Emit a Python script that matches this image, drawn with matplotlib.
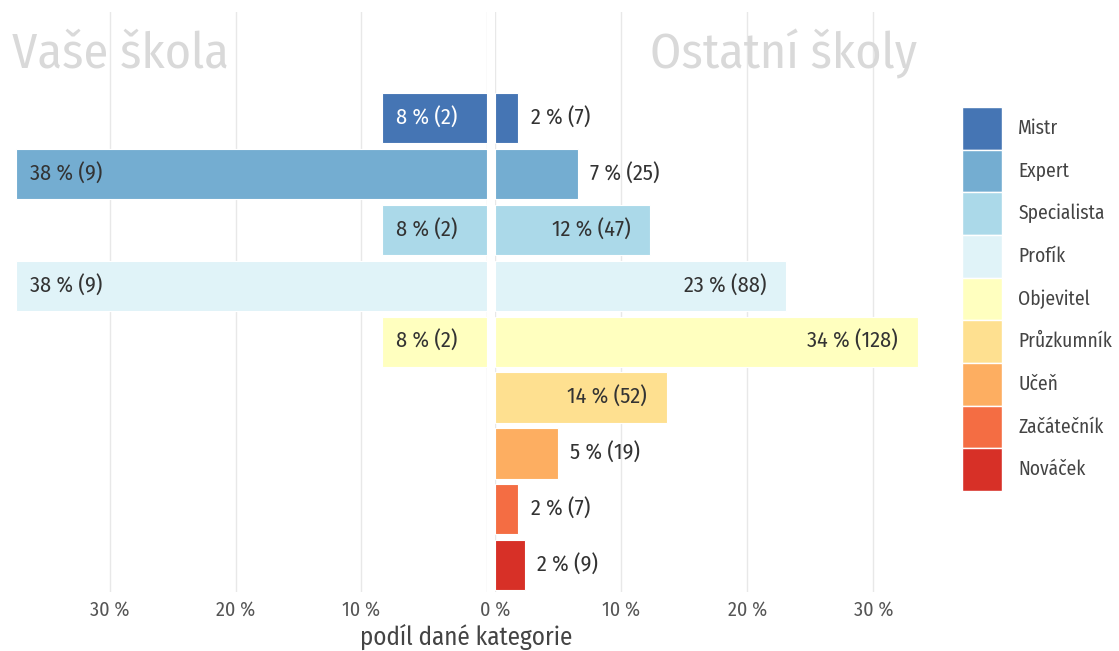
import matplotlib.pyplot as plt
from matplotlib.patches import Patch

# data
kategorie = ["Mistr", "Expert", "Specialista", "Profík", "Objevitel",
             "Průzkumník", "Učeň", "Začátečník", "Nováček"]
barvy = ["#4575b4", "#74add1", "#abd9e9", "#e0f3f8", "#ffffbf",
         "#fee090", "#fdae61", "#f46d43", "#d73027"]
vase_pocet = [2, 9, 2, 9, 2, 0, 0, 0, 0]
ostatni_pocet = [7, 25, 47, 88, 128, 52, 19, 7, 9]
ticks = [0, 10, 20, 30]

vase_pct = [v / sum(vase_pocet) * 100 for v in vase_pocet]
ostatni_pct = [v / sum(ostatni_pocet) * 100 for v in ostatni_pocet]

plt.rcParams["font.family"] = ["Ubuntu Condensed", "Fira Sans Condensed", "DejaVu Sans"]

fig = plt.figure(figsize=(11.19, 6.51), dpi=100)
ax_l = fig.add_axes([12 / 1119, 1 - 592 / 651, 475 / 1119, 580 / 651])
ax_r = fig.add_axes([495 / 1119, 1 - 592 / 651, 425 / 1119, 580 / 651])

y = list(range(len(kategorie)))[::-1]

for ax, pct, cnt in [(ax_l, vase_pct, vase_pocet), (ax_r, ostatni_pct, ostatni_pocet)]:
    for yi, p, c, col in zip(y, pct, cnt, barvy):
        if c == 0:
            continue
        ax.barh(yi, p, height=0.9, color=col, edgecolor="white", linewidth=0.8, zorder=2)
    ax.set_ylim(-0.48, 9.9)
    ax.set_yticks([])
    ax.set_xticks(ticks)
    ax.tick_params(axis="x", length=0, labelsize=14.5, labelcolor="#555555", pad=6)
    ax.grid(axis="x", color="#e8e8e8", linewidth=1, zorder=0)
    for s in ax.spines.values():
        s.set_visible(False)

ax_l.set_xticklabels(["" if t == 0 else f"{t} %" for t in ticks])
ax_r.set_xticklabels([f"{t} %" for t in ticks])
ax_l.set_xlim(37.8, 0)
ax_r.set_xlim(0, 33.7)

# popisky - leva strana vzdy uvnitr
for yi, p, c, col in zip(y, vase_pct, vase_pocet, barvy):
    if c == 0:
        continue
    tc = "white" if col == "#4575b4" else "#333333"
    ax_l.annotate(f"{p:.0f} % ({c})", (p, yi), xytext=(10, 0), textcoords="offset points",
                  ha="left", va="center", fontsize=16, color=tc, zorder=3)
for yi, p, c in zip(y, ostatni_pct, ostatni_pocet):
    if p >= 10:
        ax_r.annotate(f"{p:.0f} % ({c})", (p, yi), xytext=(-14, 0), textcoords="offset points",
                      ha="right", va="center", fontsize=16, color="#333333", zorder=3)
    else:
        ax_r.annotate(f"{p:.0f} % ({c})", (p, yi), xytext=(9, 0), textcoords="offset points",
                      ha="left", va="center", fontsize=16, color="#333333", zorder=3)

ax_l.text(0.0, 9.15, "Vaše škola", ha="left", va="center", fontsize=36, color="#d9d9d9",
          transform=ax_l.get_yaxis_transform())
ax_r.text(33.5, 9.15, "Ostatní školy", ha="right", va="center", fontsize=36, color="#d9d9d9")

fig.text(466 / 1119, 1 - 637 / 651, "podíl dané kategorie", ha="center", va="center",
         fontsize=18, color="#444444")

handles = [Patch(facecolor=c, edgecolor="white", linewidth=1) for c in barvy]
fig.legend(handles, kategorie, loc="upper left", bbox_to_anchor=(956 / 1119, 1 - 101 / 651),
           frameon=False, fontsize=14, handlelength=2.05, handleheight=3.0,
           labelspacing=0.0, handletextpad=0.85, borderpad=0.3, borderaxespad=0,
           labelcolor="#444444")

fig.savefig("out.png", dpi=100)
